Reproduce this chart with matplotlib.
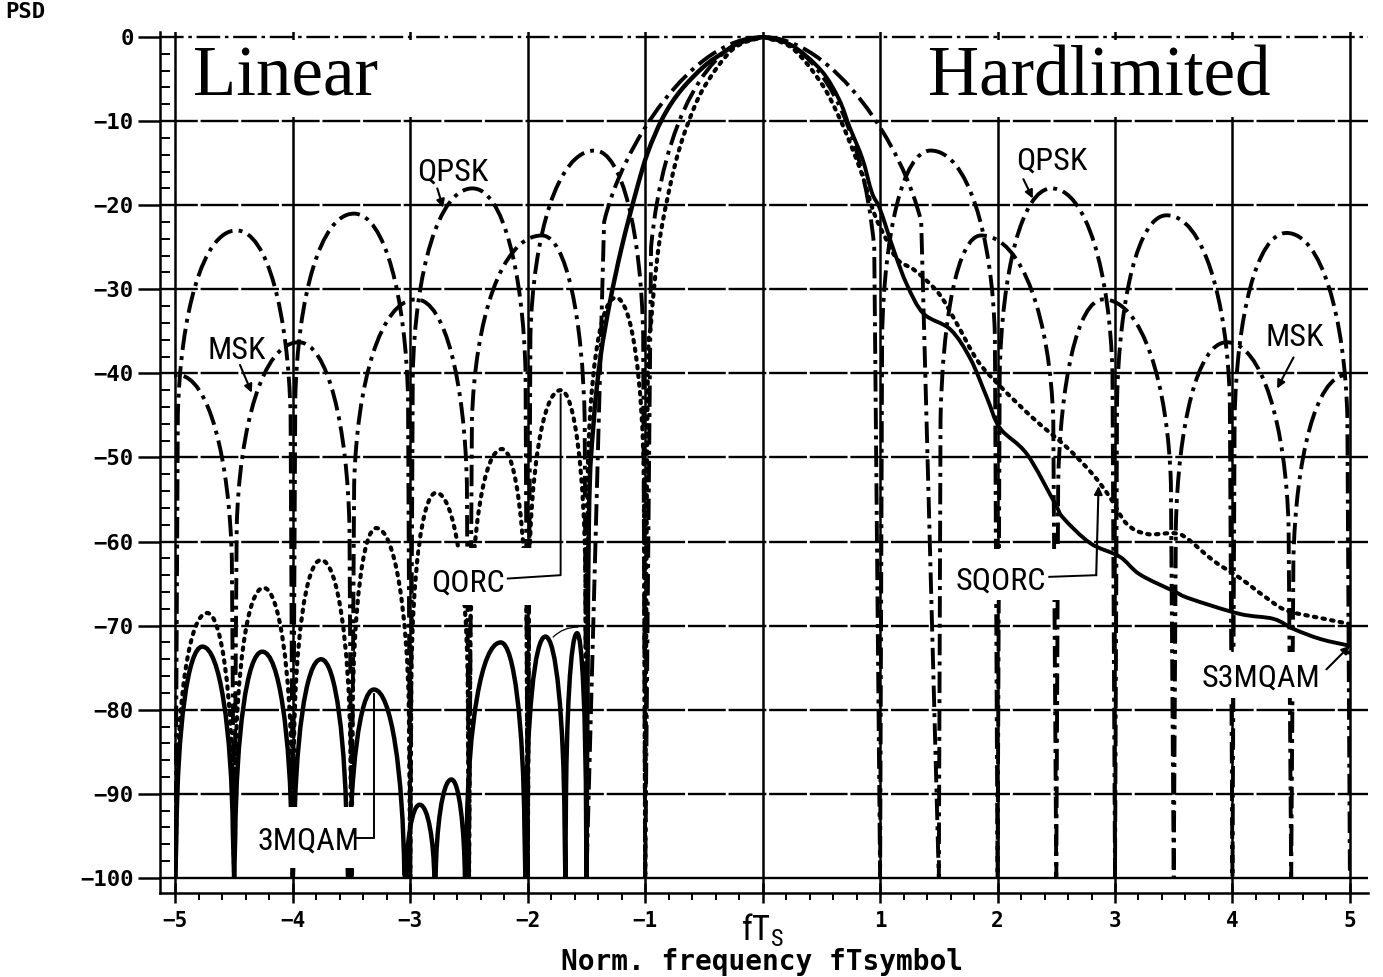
import numpy as np
import matplotlib
matplotlib.use("Agg")
import matplotlib.pyplot as plt
from matplotlib.path import Path
from matplotlib.patches import PathPatch, Rectangle
from matplotlib import font_manager

# ---------------------------------------------------------------------------
# Power spectral densities in dB versus normalized frequency f*Ts
# ---------------------------------------------------------------------------
# QPSK (both halves): spectral nulls and lobe maxima
qpsk_nulls = [-5.0, -4.0, -3.0, -2.0, -1.0, 1.0, 2.0, 3.0, 4.0, 5.0]
qpsk_peak_f = [-4.48, -3.48, -2.47, -1.43, 0.0, 1.43, 2.46, 3.44, 4.46]
qpsk_peak_db = [-23.0, -21.0, -18.0, -13.5, 0.0, -13.5, -18.0, -21.2, -23.3]

# MSK (both halves)
msk_nulls = [-5.5, -4.5, -3.5, -2.5, -1.5, 1.5, 2.5, 3.5, 4.5, 5.5]
msk_peak_f = [-4.98, -3.95, -2.95, -1.88, 0.0, 1.86, 2.90, 3.95, 4.97]
msk_peak_db = [-40.2, -36.3, -31.2, -23.6, 0.0, -23.6, -31.2, -36.3, -40.2]

# QORC, linear (left half): sidelobes and main lobe
qorc_nulls = [-5.0, -4.5, -4.0, -3.5, -3.0, -2.5, -2.0, -1.5, -1.0]
qorc_peak_f = [-4.73, -4.25, -3.76, -3.29, -2.78, -2.22, -1.72, -1.25]
qorc_peak_db = [-68.5, -65.5, -62.2, -58.4, -54.2, -49.0, -42.0, -31.0]
qorc_main_f = [-1.0, -0.98, -0.95, -0.90, -0.85, -0.75, -0.65, -0.50, -0.25, 0.0]
qorc_main_db = [-100.0, -43.0, -34.0, -26.6, -21.9, -15.4, -10.8, -6.0, -1.4, 0.0]

# 3MQAM, linear (left half)
mqam_nulls = [-5.0, -4.5, -4.0, -3.53, -3.04, -2.79, -2.53, -2.02, -1.68, -1.5]
mqam_peak_f = [-4.77, -4.26, -3.76, -3.31, -2.92, -2.65, -2.23, -1.85, -1.58]
mqam_peak_db = [-72.5, -73.1, -74.0, -77.6, -91.3, -88.3, -72.0, -71.3, -70.9]
mqam_main_f = [-1.5, -1.48, -1.44, -1.38, -1.30, -1.20, -1.08, -0.98, -0.85,
               -0.7, -0.5, -0.34, -0.2, 0.0]
mqam_main_db = [-100.0, -58.0, -46.0, -38.0, -31.5, -25.0, -18.5, -13.8, -9.6,
                -6.4, -3.5, -1.9, -0.7, 0.0]

# SQORC, hardlimited (right half)
sqorc_f = [0.0, 0.25, 0.5, 0.65, 0.75, 0.85, 0.95, 1.05, 1.15, 1.3, 1.5, 1.65,
           1.83, 2.02, 2.3, 2.59, 2.81, 2.96, 3.1, 3.27, 3.5, 3.61, 3.84, 4.06,
           4.29, 4.46, 4.75, 5.0]
sqorc_db = [0.0, -1.3, -5.5, -9.5, -12.8, -16.5, -21.0, -24.0, -26.5, -27.8,
            -30.5, -34.0, -38.5, -41.5, -45.3, -48.8, -52.0, -54.8, -57.9,
            -59.1, -59.0, -59.6, -62.3, -64.3, -66.7, -68.2, -69.1, -69.8]

# S3MQAM, hardlimited (right half)
s3mqam_f = [0.0, 0.25, 0.5, 0.65, 0.74, 0.85, 0.93, 1.0, 1.12, 1.23, 1.37,
            1.6, 1.77, 1.91, 2.02, 2.25, 2.49, 2.56, 2.79, 3.04, 3.21, 3.5,
            3.64, 4.06, 4.35, 4.52, 4.75, 5.0]
s3mqam_db = [0.0, -1.0, -4.0, -7.4, -10.7, -14.5, -18.5, -20.5, -25.5, -29.5,
             -32.9, -34.8, -38.3, -42.9, -46.5, -49.6, -55.5, -57.2, -60.2,
             -61.8, -63.9, -65.9, -66.8, -68.6, -69.2, -70.4, -71.6, -72.4]

x_ticks = [-5, -4, -3, -2, -1, 0, 1, 2, 3, 4, 5]
x_labels = ["\u22125", "\u22124", "\u22123", "\u22122", "\u22121",
            r"fT$_\mathregular{S}$", "1", "2", "3", "4", "5"]
y_ticks = [0, -10, -20, -30, -40, -50, -60, -70, -80, -90, -100]
y_labels = ["0"] + ["\u2212%d" % (-v) for v in y_ticks[1:]]

FLOOR = -100.0

# lobe outline parameters: (line end, its depth, ctrl1, ctrl1 depth, ctrl2)
SIDE = (0.04, 22.0, 0.08, 10.0, 0.45)
QPSK_MAIN = (0.05, 25.0, 0.15, 10.0, 0.55)
MSK_MAIN = (0.10, 22.0, 0.20, 13.0, 0.60)


def lobe_segments(nulls, peak_f, peak_db, main_shape=SIDE):
    """Path pieces for a lobed spectrum: each lobe rises from a null to its
    maximum and falls to the next null."""
    verts = [(nulls[0], FLOOR)]
    codes = [Path.MOVETO]
    for i, (p, v) in enumerate(zip(peak_f, peak_db)):
        shape = main_shape if v > -1.0 else SIDE
        a, s, b, c, e = shape
        depth = v - FLOOR
        s_ = min(s, depth)
        c_ = min(c, 0.5 * depth)
        n0, n1 = nulls[i], nulls[i + 1]
        h0, h1 = p - n0, p - n1
        verts += [(n0 + a * h0, v - s_),
                  (n0 + b * h0, v - c_), (n0 + e * h0, v), (p, v),
                  (n1 + e * h1, v), (n1 + b * h1, v - c_), (n1 + a * h1, v - s_),
                  (n1, FLOOR)]
        codes += [Path.LINETO] + [Path.CURVE4] * 6 + [Path.LINETO]
    return verts, codes


def smooth_segments(xs, ys):
    """Catmull-Rom curve through the given points (cubic Bezier pieces)."""
    pts = np.column_stack([xs, ys]).astype(float)
    ext = np.vstack([pts[0], pts, pts[-1]])
    verts, codes = [], []
    for i in range(len(pts) - 1):
        p0, p1, p2, p3 = ext[i], ext[i + 1], ext[i + 2], ext[i + 3]
        c1 = p1 + (p2 - p0) / 6.0
        c2 = p2 - (p3 - p1) / 6.0
        verts += [tuple(c1), tuple(c2), tuple(p2)]
        codes += [Path.CURVE4] * 3
    return verts, codes


def available(names):
    have = {f.name for f in font_manager.fontManager.ttflist}
    return [n for n in names if n in have] or ["DejaVu Sans"]


# ---------------------------------------------------------------------------
fig = plt.figure(figsize=(13.83, 9.77), dpi=100)
ax = fig.add_axes([160 / 1383, 84 / 977, 1208 / 1383, 861 / 977])
ax.set_xlim(-5.131, 5.154)
ax.set_ylim(-101.8, 0.6)

for side in ("top", "right"):
    ax.spines[side].set_visible(False)
for side in ("left", "bottom"):
    ax.spines[side].set_linewidth(1.8)

mono = ["DejaVu Sans Mono"]
narrow = available(["Roboto Condensed", "Liberation Sans Narrow", "Roboto"])
ax.set_xticks(x_ticks, x_labels)
ax.set_yticks(y_ticks, y_labels)
ax.set_xticks(np.arange(-5, 5.01, 0.2), minor=True)
ax.set_yticks(np.arange(-100, 0.1, 2), minor=True)
ax.tick_params(axis="y", which="major", direction="out", length=16, width=1.8,
               pad=3, labelsize=16)
ax.tick_params(axis="y", which="minor", direction="in", length=7, width=1.4)
ax.tick_params(axis="x", which="major", direction="inout", length=14,
               width=1.8, pad=6, labelsize=15)
ax.tick_params(axis="x", which="minor", direction="out", length=5, width=1.4)
for lab in ax.get_yticklabels() + ax.get_xticklabels():
    lab.set_family(mono)
    lab.set_fontweight("bold")
centre = ax.get_xticklabels()[5]
centre.set_family(narrow)
centre.set_fontweight("normal")
centre.set_fontsize(25)

# grid
for xv in x_ticks:
    ax.axvline(xv, color="k", lw=1.8, zorder=1)
for yv in y_ticks:
    if yv == 0:
        ls = (0, (10, 2, 1.5, 2))
    elif yv == -100:
        ls = "-"
    else:
        ls = (0, (16, 1.2))
    ax.axhline(yv, color="k", lw=1.7, ls=ls, zorder=1)

clip = Rectangle((-5.01, FLOOR), 10.02, 100.6, transform=ax.transData)


def draw(verts, codes, lw, ls, cap="butt"):
    patch = PathPatch(Path(verts, codes), fill=False, ec="k", lw=lw, ls=ls,
                      capstyle=cap, joinstyle="round", zorder=2)
    ax.add_patch(patch)
    patch.set_clip_path(clip)


DASHDOT = (0, (5.5, 1.6, 1.0, 1.6))
DOTTED = (0, (0.6, 1.5))

# QPSK and MSK (dash-dot)
v, c = lobe_segments(qpsk_nulls, qpsk_peak_f, qpsk_peak_db, QPSK_MAIN)
draw(v, c, 2.8, DASHDOT)
v, c = lobe_segments(msk_nulls, msk_peak_f, msk_peak_db, MSK_MAIN)
draw(v, c, 2.8, DASHDOT)

# QORC (dotted)
v, c = lobe_segments(qorc_nulls, qorc_peak_f, qorc_peak_db)
v2, c2 = smooth_segments(qorc_main_f, qorc_main_db)
draw(v + v2, c + c2, 3.0, DOTTED, cap="round")

# 3MQAM (solid)
v, c = lobe_segments(mqam_nulls, mqam_peak_f, mqam_peak_db)
v2, c2 = smooth_segments(mqam_main_f, mqam_main_db)
draw(v + v2, c + c2, 3.2, "-")

# SQORC (dotted) and S3MQAM (solid), hardlimited
v, c = smooth_segments(sqorc_f, sqorc_db)
draw([(sqorc_f[0], sqorc_db[0])] + v, [Path.MOVETO] + c, 3.0, DOTTED, cap="round")
v, c = smooth_segments(s3mqam_f, s3mqam_db)
draw([(s3mqam_f[0], s3mqam_db[0])] + v, [Path.MOVETO] + c, 2.8, "-")

# ---------------------------------------------------------------------------
# panel titles
for (x0, w) in [(-4.98, 2.06), (1.08, 3.88)]:
    ax.add_patch(Rectangle((x0, -9.5), w, 9.1, fc="white", ec="none", zorder=3))
serif = ["Liberation Serif", "DejaVu Serif"]
ax.text(-4.85, -7.0, "Linear", family=serif, fontsize=51, ha="left",
        va="baseline", zorder=5)
ax.text(1.41, -7.0, "Hardlimited", family=serif, fontsize=51, ha="left",
        va="baseline", zorder=5)

# curve labels
label_boxes = [(-2.92, -67.6, 0.98, 6.8),    # QORC
               (-4.30, -98.8, 0.86, 7.2),    # 3MQAM
               (1.58, -66.9, 1.02, 6.0),     # SQORC
               (3.66, -78.6, 1.16, 5.5)]     # S3MQAM
for (x0, y0, w, h) in label_boxes:
    ax.add_patch(Rectangle((x0, y0), w, h, fc="white", ec="none", zorder=3))

labels = [("QPSK", -2.64, -16.0), ("QPSK", 2.46, -14.7),
          ("MSK", -4.48, -37.3), ("MSK", 4.53, -35.7),
          ("QORC", -2.51, -64.9), ("3MQAM", -3.87, -95.6),
          ("SQORC", 2.03, -64.7), ("S3MQAM", 4.24, -76.2)]
for txt, xv, yv in labels:
    ax.text(xv, yv, txt, family=narrow, fontsize=23, ha="center",
            va="center", zorder=5)

arrow = dict(arrowstyle="-|>", color="k", lw=1.5, mutation_scale=12,
             shrinkA=0, shrinkB=0)
for tail, head in [((-2.77, -18.0), (-2.72, -20.3)),
                   ((2.22, -16.9), (2.30, -19.2)),
                   ((-4.45, -39.0), (-4.35, -42.3)),
                   ((4.52, -38.1), (4.38, -41.8)),
                   ((4.80, -75.2), (s3mqam_f[-1], s3mqam_db[-1]))]:
    ax.annotate("", xy=head, xytext=tail, arrowprops=arrow, zorder=5)

# leaders: QORC -> lobe maximum, 3MQAM -> lobe maximum, SQORC -> curve
ax.plot([-2.17, qorc_peak_f[6], qorc_peak_f[6]],
        [-64.4, -64.0, qorc_peak_db[6] - 0.5], color="k", lw=1.4, zorder=5)
ax.plot([-3.45, mqam_peak_f[3], mqam_peak_f[3]],
        [-95.3, -95.3, mqam_peak_db[3] - 0.5], color="k", lw=1.4, zorder=5)
ax.plot([2.44, 2.84], [-64.2, -64.0], color="k", lw=1.4, zorder=5)
ax.annotate("", xy=(2.86, -53.4), xytext=(2.84, -64.0), arrowprops=arrow,
            zorder=5)
ax.annotate("", xy=(-1.55, -70.2), xytext=(-1.80, -71.6),
            arrowprops=dict(arrowstyle="-", color="k", lw=0.9,
                            connectionstyle="arc3,rad=-0.25"), zorder=5)

# axis titles
fig.text(5 / 1383, 1 - 2 / 977, "PSD", family=mono, fontweight="bold",
         fontsize=16, ha="left", va="top")
fig.text(762 / 1383, 1 - 962 / 977, "Norm. frequency fTsymbol", family=mono,
         fontweight="bold", fontsize=20, ha="center", va="center")

fig.savefig("out.png", dpi=100)
